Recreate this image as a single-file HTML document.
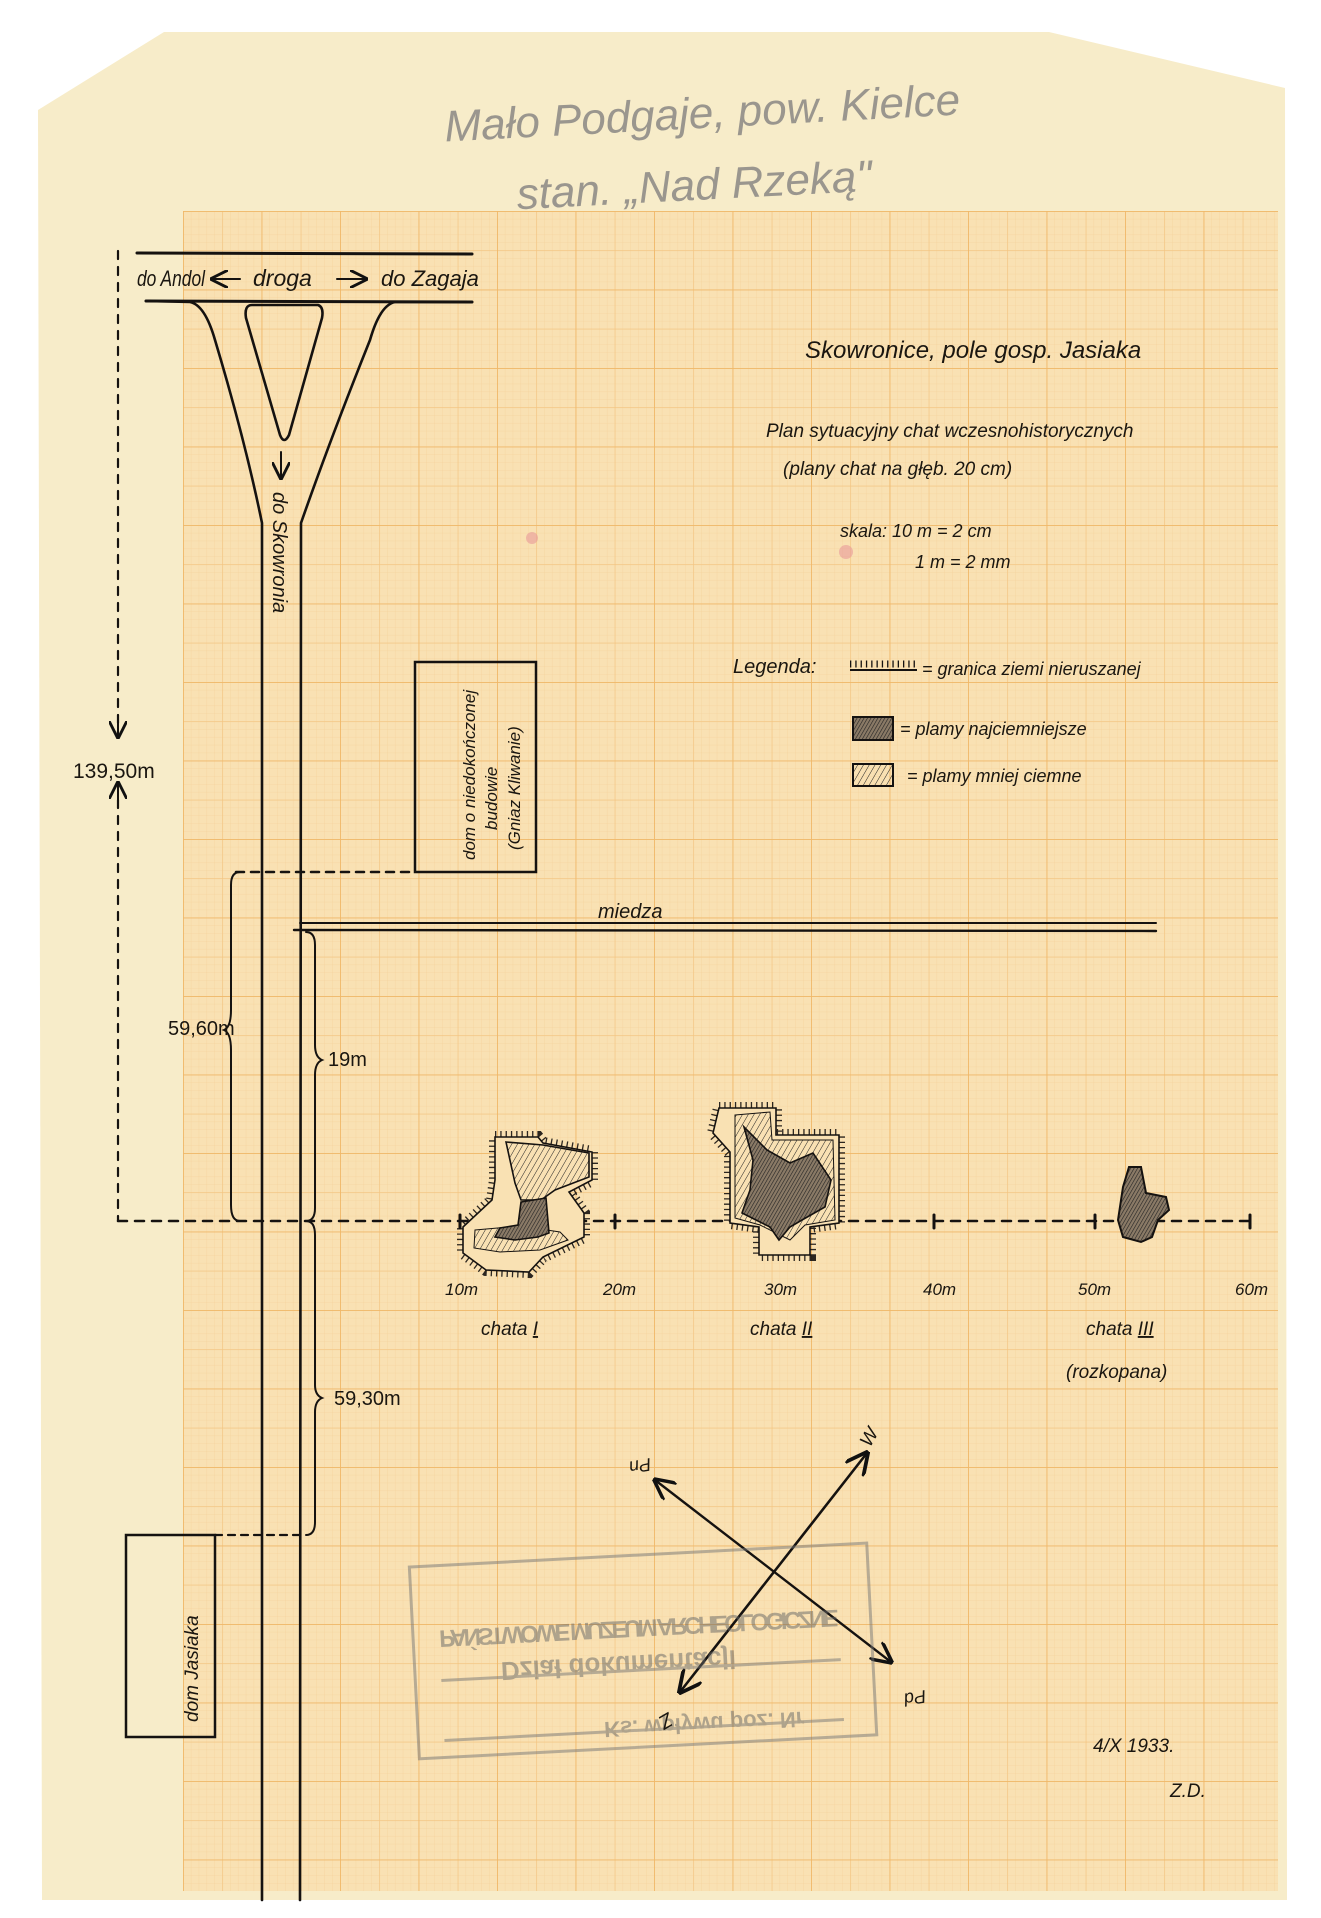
<!DOCTYPE html>
<html><head><meta charset="utf-8"><style>
html,body{margin:0;padding:0;background:#fff;}
#wrap{position:relative;width:1321px;height:1918px;overflow:hidden;background:#fff;}
svg{position:absolute;left:0;top:0;}
.h{font-family:"Liberation Sans Narrow","Liberation Sans",sans-serif;font-style:italic;fill:#1a1610;}
</style></head><body><div id="wrap">
<svg width="1321" height="1918" viewBox="0 0 1321 1918">
<defs>
<pattern id="mm" x="183" y="211" width="7.85" height="7.85" patternUnits="userSpaceOnUse">
<path d="M0 0H7.85M0 0V7.85" stroke="#f5d39e" stroke-width="0.8" fill="none"/></pattern>
<pattern id="half" x="183" y="211" width="39.25" height="39.25" patternUnits="userSpaceOnUse">
<path d="M0 0H39.25M0 0V39.25" stroke="#f3c47f" stroke-width="1.2" fill="none"/></pattern>
<pattern id="cm" x="183" y="211" width="78.5" height="78.5" patternUnits="userSpaceOnUse">
<path d="M0 0H78.5M0 0V78.5" stroke="#f0b869" stroke-width="1.8" fill="none"/></pattern>
<pattern id="hatch" width="5" height="5" patternUnits="userSpaceOnUse" patternTransform="rotate(30)">
<rect width="5" height="5" fill="none"/><line x1="0" y1="0" x2="0" y2="5" stroke="#222" stroke-width="1"/></pattern>
<pattern id="hatchD" width="3" height="3" patternUnits="userSpaceOnUse" patternTransform="rotate(30)">
<rect width="3" height="3" fill="#8a7a66"/><line x1="0" y1="0" x2="0" y2="3" stroke="#222" stroke-width="1.2"/></pattern>
<marker id="ah" viewBox="0 0 10 10" refX="9" refY="5" markerWidth="9" markerHeight="9" orient="auto-start-reverse">
<path d="M0 0L10 5L0 10" fill="none" stroke="#111" stroke-width="1.6"/></marker>
</defs>
<path d="M164 32 L1049 32 L1285 88 L1287 1900 L42 1900 L38 110 Z" fill="#f7ecc9"/>
<rect x="183" y="211" width="1095" height="1680" fill="#f9e1b3"/>
<rect x="183" y="211" width="1095" height="1680" fill="url(#mm)"/>
<rect x="183" y="211" width="1095" height="1680" fill="url(#half)"/>
<rect x="183" y="211" width="1095" height="1680" fill="url(#cm)"/>
<text x="703" y="128" text-anchor="middle" font-family="Liberation Sans Narrow,Liberation Sans,sans-serif" font-style="italic" font-size="44" fill="#9a968e" transform="rotate(-3 703 128)">Mało Podgaje, pow. Kielce</text>
<text x="695" y="200" text-anchor="middle" font-family="Liberation Sans Narrow,Liberation Sans,sans-serif" font-style="italic" font-size="44" fill="#9a968e" transform="rotate(-3 695 200)">stan. „Nad Rzeką"</text>
<circle cx="532" cy="538" r="6" fill="#e79a9a" opacity="0.6"/><circle cx="846" cy="552" r="7" fill="#e79a9a" opacity="0.6"/>
<g stroke="#151210" fill="none" stroke-linecap="round">
<line x1="137" y1="253" x2="472" y2="254" stroke-width="3"/>
<line x1="146" y1="301" x2="472" y2="302" stroke-width="3"/>
<line x1="118" y1="251" x2="118" y2="735" stroke-width="2.2" stroke-dasharray="8 8"/>
<line x1="118" y1="800" x2="118" y2="1221" stroke-width="2.2" stroke-dasharray="8 8"/>
<line x1="118" y1="1221" x2="1250" y2="1221" stroke-width="2.5" stroke-dasharray="9 8"/>
<path d="M146 301 L190 302 Q205 305 215 340 Q245 440 262 523 L262 1900" stroke-width="2.6"/>
<path d="M472 302 L395 302 Q380 305 370 340 Q330 440 301 523 L300 1900" stroke-width="2.6"/>
<path d="M252 305 L318 305 Q324 307 322 318 L289 435 Q284 445 280 435 L246 318 Q244 305 252 305 Z" stroke-width="2.6"/>
<line x1="281" y1="452" x2="281" y2="478" stroke-width="2" marker-end="url(#ah)"/>
<rect x="415" y="662" width="121" height="210" stroke-width="2.5"/>
<line x1="236" y1="872" x2="413" y2="872" stroke-width="2.5" stroke-dasharray="8 7"/>
<line x1="300" y1="923" x2="1156" y2="923" stroke-width="2"/>
<line x1="294" y1="930" x2="1156" y2="931" stroke-width="2.4"/>
<path d="M240 872 Q231 872 231 885 L231 1010 Q231 1027 224 1030 Q231 1033 231 1050 L231 1205 Q231 1221 240 1221" stroke-width="2"/>
<path d="M306 932 Q315 932 315 945 L315 1045 Q315 1057 322 1060 Q315 1063 315 1075 L315 1208 Q315 1221 306 1221" stroke-width="2"/>
<path d="M306 1221 Q315 1221 315 1235 L315 1385 Q315 1395 322 1398 Q315 1401 315 1412 L315 1522 Q315 1535 306 1535" stroke-width="2"/>
<line x1="215" y1="1535" x2="300" y2="1535" stroke-width="2.2" stroke-dasharray="7 6"/>
<rect x="126" y="1535" width="89" height="202" stroke-width="2.5"/>
<line x1="118" y1="715" x2="118" y2="737" stroke-width="2" marker-end="url(#ah)"/>
<line x1="118" y1="805" x2="118" y2="783" stroke-width="2" marker-end="url(#ah)"/>
<g stroke-width="3"><line x1="460" y1="1215" x2="460" y2="1228"/><line x1="615" y1="1215" x2="615" y2="1228"/><line x1="934" y1="1215" x2="934" y2="1228"/><line x1="1095" y1="1215" x2="1095" y2="1228"/><line x1="1250" y1="1215" x2="1250" y2="1228"/></g>
<line x1="891" y1="1662" x2="655" y2="1480" stroke-width="2.4" marker-end="url(#ah)" marker-start="url(#ah)"/>
<line x1="680" y1="1692" x2="867" y2="1453" stroke-width="2.6" marker-end="url(#ah)" marker-start="url(#ah)"/>
<line x1="240" y1="279" x2="212" y2="279" stroke-width="2" marker-end="url(#ah)"/>
<line x1="337" y1="279" x2="366" y2="279" stroke-width="2" marker-end="url(#ah)"/>
</g>
<g stroke="#151210" stroke-width="1.6">
<path d="M495 1137 L538 1137 L543 1143 L592 1152 L592 1180 L569 1192 L584 1213 L584 1237 L543 1257 L529 1272 L486 1270 L463 1253 L463 1227 L492 1200 L495 1180 Z" fill="none" stroke-width="12" stroke-dasharray="1.3 4" opacity="0.9"/>
<path d="M495 1137 L538 1137 L543 1143 L592 1152 L592 1180 L569 1192 L584 1213 L584 1237 L543 1257 L529 1272 L486 1270 L463 1253 L463 1227 L492 1200 L495 1180 Z" fill="#f9e1b3"/>
<path d="M506 1142 L543 1145 L589 1153 L589 1177 L555 1190 L541 1200 L521 1200 L515 1183 Z" fill="url(#hatch)"/>
<path d="M475 1230 L520 1226 L560 1232 L568 1240 L540 1250 L500 1252 L474 1248 Z" fill="url(#hatch)" stroke-width="1"/>
<path d="M521 1202 L546 1198 L549 1233 L538 1237 L515 1240 L495 1237 L500 1228 L518 1225 Z" fill="url(#hatchD)"/>
<path d="M719 1108 L776 1108 L776 1135 L839 1135 L839 1223 L810 1227 L810 1255 L759 1255 L759 1227 L730 1223 L730 1152 L713 1133 Z" fill="none" stroke-width="12" stroke-dasharray="1.3 4" opacity="0.9"/>
<path d="M719 1108 L776 1108 L776 1135 L839 1135 L839 1223 L810 1227 L810 1255 L759 1255 L759 1227 L730 1223 L730 1152 L713 1133 Z" fill="#f9e1b3"/>
<path d="M735 1115 L770 1112 L772 1140 L833 1140 L835 1220 L805 1225 L790 1240 L760 1225 L735 1218 Z" fill="url(#hatch)" stroke-width="1"/>
<path d="M744 1127 L767 1150 L790 1163 L813 1153 L831 1180 L825 1207 L802 1220 L790 1227 L779 1240 L770 1227 L756 1220 L742 1213 L750 1190 L753 1160 Z" fill="url(#hatchD)"/>
<path d="M1129 1167 L1141 1167 L1146 1193 L1166 1197 L1169 1210 L1158 1220 L1152 1237 L1141 1242 L1123 1237 L1118 1220 L1123 1187 Z" fill="url(#hatchD)" stroke-width="2"/>
</g>
<g stroke="#151210" fill="none">
<line x1="850" y1="670" x2="917" y2="670" stroke-width="2"/>
<line x1="850" y1="664" x2="917" y2="664" stroke-width="7" stroke-dasharray="1.3 4"/>
<rect x="853" y="717" width="40" height="23" fill="url(#hatchD)" stroke-width="2"/>
<rect x="853" y="764" width="40" height="22" fill="url(#hatch)" stroke-width="2"/>
</g>
<g transform="rotate(-3 642 1650)" opacity="0.5">
<rect x="414" y="1555" width="458" height="192" fill="none" stroke="#777" stroke-width="3"/>
<line x1="440" y1="1670" x2="840" y2="1670" stroke="#777" stroke-width="3"/>
<line x1="440" y1="1730" x2="840" y2="1730" stroke="#777" stroke-width="3"/>
<g transform="translate(0 3300) scale(1 -1)" font-family="Liberation Sans,sans-serif" font-weight="bold" fill="#666">
<text x="440" y="1680" font-size="24" textLength="400">PAŃSTWOWE MUZEUM ARCHEOLOGICZNE</text>
<text x="500" y="1645" font-size="26">Dział dokumentacji</text>
<text x="600" y="1580" font-size="22">Ks. wpływu poz. Nr</text>
</g></g>
<g class="h">
<text x="137" y="286" font-size="22" textLength="68" lengthAdjust="spacingAndGlyphs">do Andol</text>
<text x="253" y="286" font-size="23">droga</text>
<text x="381" y="286" font-size="22">do Zagaja</text>
<text transform="translate(273 492) rotate(90)" font-size="20">do Skowronia</text>
<text transform="translate(475 860) rotate(-90)" font-size="17">dom o niedokończonej</text>
<text transform="translate(497 830) rotate(-90)" font-size="17">budowie</text>
<text transform="translate(520 850) rotate(-90)" font-size="17">(Gniaz Kliwanie)</text>
<text transform="translate(198 1722) rotate(-90)" font-size="19">dom Jasiaka</text>
<text x="73" y="778" font-size="21" font-style="normal">139,50m</text>
<text x="168" y="1035" font-size="20" font-style="normal">59,60m</text>
<text x="328" y="1066" font-size="20" font-style="normal">19m</text>
<text x="334" y="1405" font-size="20" font-style="normal">59,30m</text>
<text x="598" y="918" font-size="20">miedza</text>
<text x="805" y="358" font-size="24">Skowronice, pole gosp. Jasiaka</text>
<text x="766" y="437" font-size="19">Plan sytuacyjny chat wczesnohistorycznych</text>
<text x="783" y="475" font-size="19">(plany chat na głęb. 20 cm)</text>
<text x="840" y="537" font-size="18">skala: 10 m = 2 cm</text>
<text x="915" y="568" font-size="18">1 m = 2 mm</text>
<text x="733" y="673" font-size="20">Legenda:</text>
<text x="922" y="675" font-size="18">= granica ziemi nieruszanej</text>
<text x="900" y="735" font-size="18">= plamy najciemniejsze</text>
<text x="907" y="782" font-size="18">= plamy mniej ciemne</text>
<text x="445" y="1295" font-size="17">10m</text>
<text x="603" y="1295" font-size="17">20m</text>
<text x="764" y="1295" font-size="17">30m</text>
<text x="923" y="1295" font-size="17">40m</text>
<text x="1078" y="1295" font-size="17">50m</text>
<text x="1235" y="1295" font-size="17">60m</text>
<text x="481" y="1335" font-size="19">chata <tspan text-decoration="underline">I</tspan></text>
<text x="750" y="1335" font-size="19">chata <tspan text-decoration="underline">II</tspan></text>
<text x="1086" y="1335" font-size="19">chata <tspan text-decoration="underline">III</tspan></text>
<text x="1066" y="1378" font-size="19">(rozkopana)</text>
<text transform="translate(650 1458) rotate(170)" font-size="18">Pn</text>
<text transform="translate(870 1448) rotate(-60)" font-size="19">W</text>
<text transform="translate(925 1690) rotate(170)" font-size="18">Pd</text>
<text transform="translate(668 1712) rotate(150)" font-size="20">Z</text>
<text x="1093" y="1752" font-size="19">4/X 1933.</text>
<text x="1170" y="1797" font-size="19">Z.D.</text>
</g>
</svg></div></body></html>
